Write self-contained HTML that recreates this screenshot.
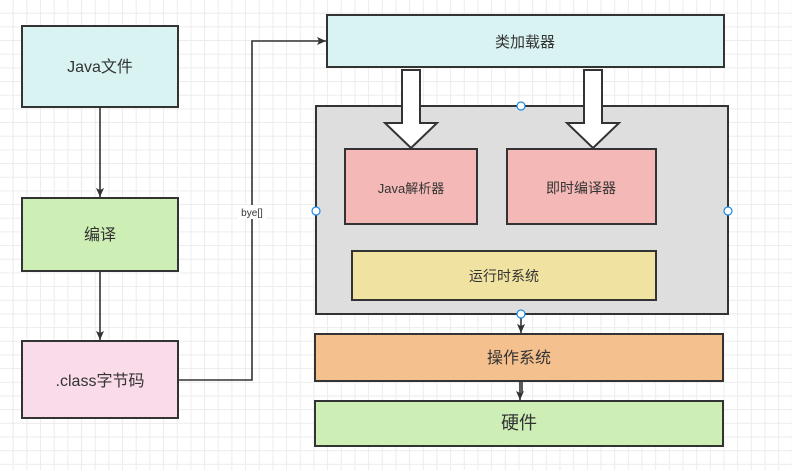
<!DOCTYPE html>
<html><head><meta charset="utf-8"><style>
html,body{margin:0;padding:0;background:#fff;}
svg{display:block;}
text{font-family:"Liberation Sans","Noto Sans CJK SC",sans-serif;fill:#333;}
</style></head><body>
<svg width="792" height="470" viewBox="0 0 792 470" xmlns="http://www.w3.org/2000/svg">
<defs>
<pattern id="g" x="0" y="0" width="13.67" height="13.67" patternUnits="userSpaceOnUse">
<path d="M13.17 0V13.67M0 13.17H13.67" stroke="#ececec" stroke-width="1" fill="none"/>
</pattern>
<marker id="ah" markerWidth="10" markerHeight="8" refX="9" refY="4" orient="auto" markerUnits="userSpaceOnUse">
<path d="M0,0 L9,4 L0,8 L2,4 Z" fill="#333"/>
</marker>
</defs>
<rect width="792" height="470" fill="url(#g)"/>
<g stroke="#333" stroke-width="2">
<rect x="22" y="26" width="156" height="81" fill="#d9f3f3"/>
<rect x="22" y="198" width="156" height="73" fill="#cdeeb5"/>
<rect x="22" y="341" width="156" height="77" fill="#fadbe9"/>
<rect x="327" y="15" width="397" height="52" fill="#d9f3f3"/>
<rect x="316" y="106" width="412" height="208" fill="#dedede"/>
<rect x="345" y="149" width="132" height="75" fill="#f4b8b6"/>
<rect x="507" y="149" width="149" height="75" fill="#f4b8b6"/>
<rect x="352" y="251" width="304" height="49" fill="#f0e2a0"/>
<rect x="315" y="334" width="408" height="47" fill="#f4c08d"/>
<rect x="315" y="401" width="408" height="45" fill="#cdeeb5"/>
<path d="M402,70 V123 H385 L411,148 L437,123 H420 V70 Z" fill="#fff"/>
<path d="M584,70 V123 H567 L593,148 L619,123 H602 V70 Z" fill="#fff"/>
</g>
<g stroke="#333" stroke-width="1.6" fill="none">
<path d="M100,107 V197" marker-end="url(#ah)"/>
<path d="M100,271 V340" marker-end="url(#ah)"/>
<path d="M178,380 H252 V41 H326" marker-end="url(#ah)"/>
<path d="M521,314 V333" marker-end="url(#ah)"/>
<path d="M522,381 V392"/>
<path d="M520,381 V400" marker-end="url(#ah)"/>
</g>
<rect x="238" y="205" width="28" height="14" fill="#fff"/>
<text x="252" y="216" font-size="10" text-anchor="middle">bye[]</text>
<g fill="#fff" stroke="#1e88e5" stroke-width="1.2">
<circle cx="521" cy="106" r="4"/><circle cx="316" cy="211" r="4"/><circle cx="728" cy="211" r="4"/><circle cx="521" cy="314" r="4"/>
</g>
<g text-anchor="middle" font-size="16">
<text x="100" y="72">Java文件</text>
<text x="100" y="240">编译</text>
<text x="100" y="386">.class字节码</text>
<text x="525" y="47" font-size="15">类加载器</text>
<text x="411" y="193" font-size="13">Java解析器</text>
<text x="581" y="193" font-size="14">即时编译器</text>
<text x="504" y="281" font-size="14">运行时系统</text>
<text x="519" y="363">操作系统</text>
<text x="519" y="429" font-size="18">硬件</text>
</g>
</svg>
</body></html>
